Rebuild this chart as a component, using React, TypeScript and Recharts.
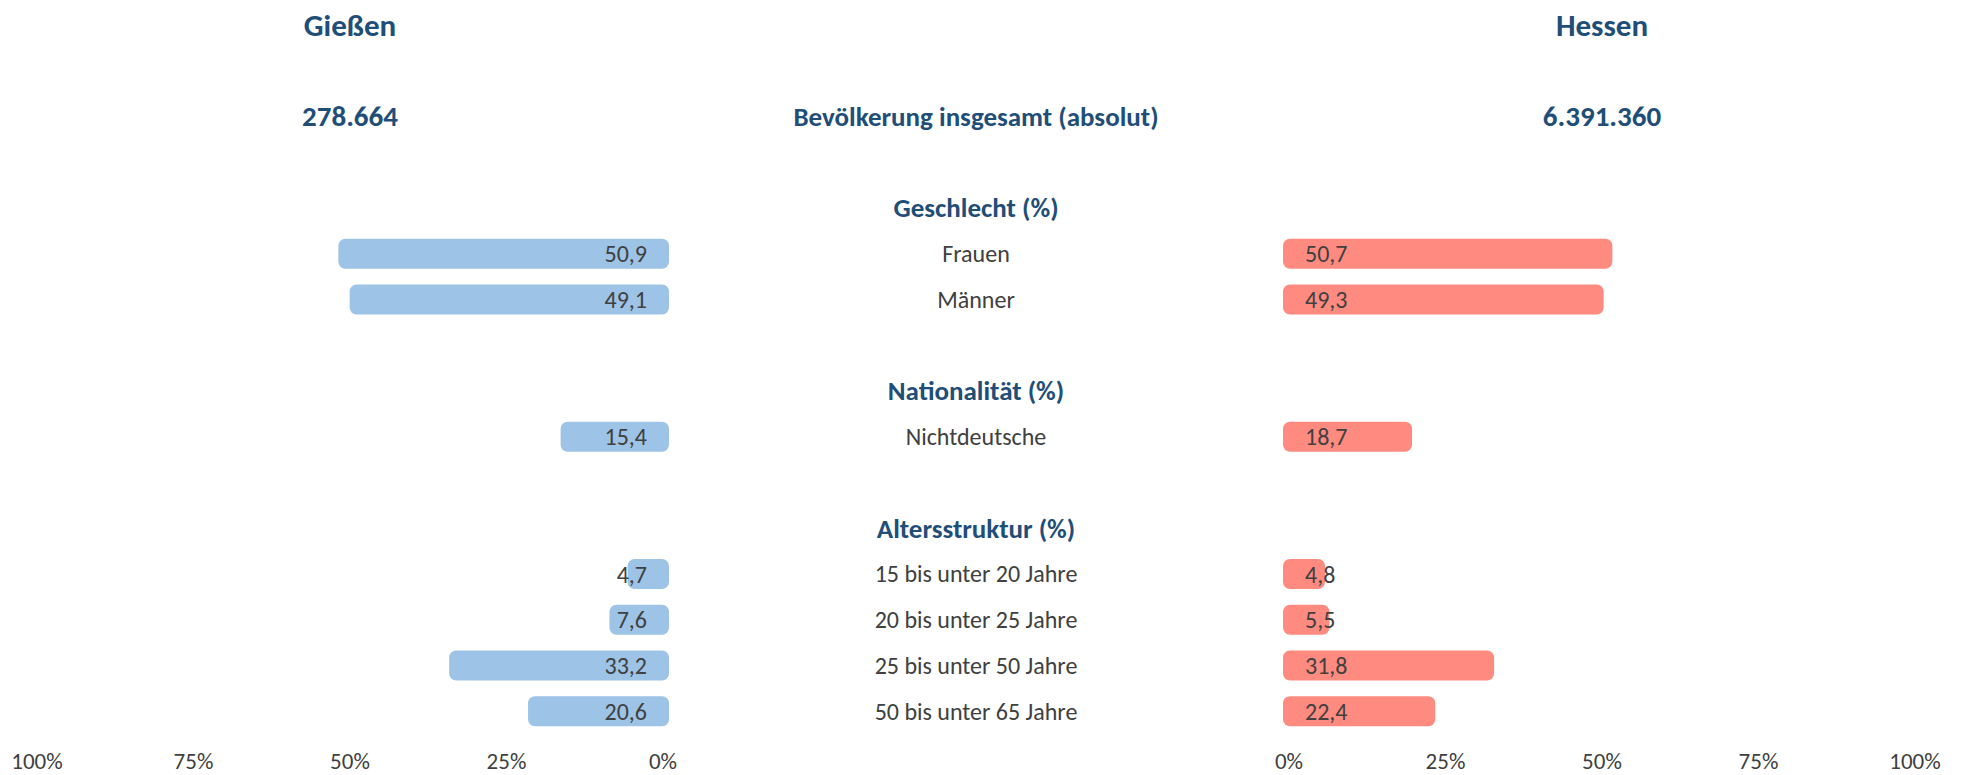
import React from 'react';
import { BarChart, Bar, XAxis, YAxis, LabelList } from 'recharts';

// rows of the table, top to bottom
const rowLabels = [
  '', '', 'Bevölkerung insgesamt (absolut)', '',
  'Geschlecht (%)', 'Frauen', 'Männer', '',
  'Nationalität (%)', 'Nichtdeutsche', '',
  'Altersstruktur (%)', '15 bis unter 20 Jahre', '20 bis unter 25 Jahre', '25 bis unter 50 Jahre', '50 bis unter 65 Jahre',
];
const rowKinds = [
  'title', 'blank', 'total', 'blank',
  'header', 'item', 'item', 'blank',
  'header', 'item', 'blank',
  'header', 'item', 'item', 'item', 'item',
];
const giessenValues = [null, null, null, null, null, 50.9, 49.1, null, null, 15.4, null, null, 4.7, 7.6, 33.2, 20.6];
const hessenValues = [null, null, null, null, null, 50.7, 49.3, null, null, 18.7, null, null, 4.8, 5.5, 31.8, 22.4];

const regionNames = ['Gießen', 'Hessen'];
const regionTotals = ['278.664', '6.391.360'];
const percentTicks = [0, 25, 50, 75, 100];

const W = 1963;
const H = 775;
const MARGIN = { top: 2, right: 48, bottom: 39, left: 36 };
const FONT = 'Calibri, Carlito, Lato, sans-serif';
const BLUE_TEXT = '#1F4E79';
const GREY_TEXT = '#404040';
const LEFT_FILL = '#9DC3E6';
const RIGHT_FILL = '#FF8A80';

// both axes run from -200 to 100 over the whole plot, so each side gets a third
const unit = (W - MARGIN.left - 1 - MARGIN.right) / 300;
const leftCenterX = MARGIN.left + 1 + 50 * unit;
const midX = MARGIN.left + 1 + 150 * unit;
const rightCenterX = MARGIN.left + 1 + 250 * unit;

const data = rowLabels.map((label, i) => ({
  id: 'r' + i,
  label,
  kind: rowKinds[i],
  giessen: giessenValues[i],
  hessen: hessenValues[i],
}));

const fmt = (v: number) => v.toFixed(1).replace('.', ',');

const RowTick = (props: any) => {
  const { y, index } = props;
  const row = data[index];
  if (!row) return null;
  const out: any[] = [];
  if (row.kind === 'title') {
    out.push(
      <text key="l" x={leftCenterX} y={y} textAnchor="middle" dominantBaseline="central" fill={BLUE_TEXT} fontWeight="bold" fontSize={31} fontFamily={FONT}>{regionNames[0]}</text>,
      <text key="r" x={rightCenterX} y={y} textAnchor="middle" dominantBaseline="central" fill={BLUE_TEXT} fontWeight="bold" fontSize={31} fontFamily={FONT}>{regionNames[1]}</text>
    );
  }
  if (row.kind === 'total') {
    out.push(
      <text key="l" x={leftCenterX} y={y} textAnchor="middle" dominantBaseline="central" fill={BLUE_TEXT} fontWeight="bold" fontSize={29} fontFamily={FONT}>{regionTotals[0]}</text>,
      <text key="r" x={rightCenterX} y={y} textAnchor="middle" dominantBaseline="central" fill={BLUE_TEXT} fontWeight="bold" fontSize={29} fontFamily={FONT}>{regionTotals[1]}</text>
    );
  }
  if (row.label) {
    const bold = row.kind === 'header' || row.kind === 'total';
    out.push(
      <text key="c" x={midX} y={y} textAnchor="middle" dominantBaseline="central"
        fill={bold ? BLUE_TEXT : GREY_TEXT} fontWeight={bold ? 'bold' : 'normal'}
        fontSize={bold ? 27 : 24} fontFamily={FONT}>{row.label}</text>
    );
  }
  return <g>{out}</g>;
};

// excel style bar: rounded outline that overhangs both ends a little
const roundBar = (fill: string) => (p: any) => {
  if (p.value == null || !p.width) return <g />;
  const x0 = Math.min(p.x, p.x + p.width);
  const w = Math.abs(p.width);
  return <rect x={x0 - 6} y={p.y} width={w + 12} height={p.height} rx={7} ry={7} fill={fill} />;
};

const valueLabel = (side: 'left' | 'right') => (p: any) => {
  if (p.value == null) return null;
  const x = Number(p.x);
  const w = Number(p.width);
  const yc = Number(p.y) + Number(p.height) / 2;
  const zeroX = side === 'left' ? Math.max(x, x + w) : Math.min(x, x + w);
  return (
    <text x={side === 'left' ? zeroX - 16 : zeroX + 16} y={yc} textAnchor={side === 'left' ? 'end' : 'start'}
      dominantBaseline="central" fill={GREY_TEXT} fontSize={24} fontFamily={FONT}>
      {fmt(Number(p.value))}
    </text>
  );
};

const tickStyle = { fill: GREY_TEXT, fontSize: 23, fontFamily: FONT };

export default function App() {
  return (
    <div style={{ position: 'absolute', left: 0, top: 0, width: W, height: H, background: '#fff' }}>
      <BarChart width={W} height={H} data={data} layout="vertical" margin={MARGIN}>
        <XAxis xAxisId="L" type="number" domain={[-200, 100]} allowDataOverflow reversed ticks={percentTicks}
          tickFormatter={(v) => `${v}%`} axisLine={false} tickLine={false} height={1} tickMargin={13} tick={tickStyle} />
        <XAxis xAxisId="R" type="number" domain={[-200, 100]} allowDataOverflow ticks={percentTicks}
          tickFormatter={(v) => `${v}%`} axisLine={false} tickLine={false} height={1} tickMargin={12} tick={tickStyle} />
        <YAxis yAxisId="L" type="category" dataKey="id" hide />
        <YAxis yAxisId="R" type="category" dataKey="id" width={1} axisLine={false} tickLine={false} tick={<RowTick />} interval={0} />
        <Bar dataKey="giessen" xAxisId="L" yAxisId="L" barSize={30} fill={LEFT_FILL} shape={roundBar(LEFT_FILL)} isAnimationActive={false}>
          <LabelList dataKey="giessen" content={valueLabel('left')} />
        </Bar>
        <Bar dataKey="hessen" xAxisId="R" yAxisId="R" barSize={30} fill={RIGHT_FILL} shape={roundBar(RIGHT_FILL)} isAnimationActive={false}>
          <LabelList dataKey="hessen" content={valueLabel('right')} />
        </Bar>
      </BarChart>
    </div>
  );
}
